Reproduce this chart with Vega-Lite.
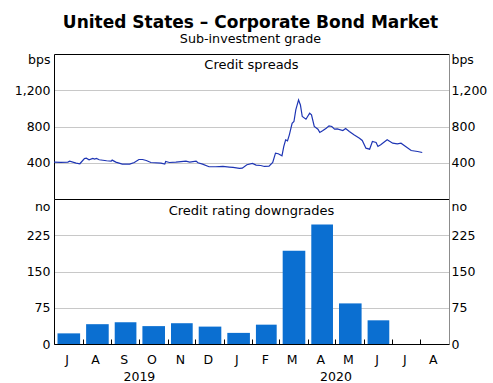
{
  "$schema": "https://vega.github.io/schema/vega-lite/v6.json",
  "padding": {"left": 14, "top": 13, "right": 5, "bottom": 2},
  "title": {
    "text": "United States – Corporate Bond Market",
    "subtitle": "Sub-investment grade",
    "anchor": "middle",
    "font": "DejaVu Sans",
    "fontSize": 17,
    "fontWeight": "bold",
    "color": "#000000",
    "subtitleFont": "DejaVu Sans",
    "subtitleFontSize": 12.7,
    "subtitleColor": "#000000",
    "subtitlePadding": 1,
    "offset": 6.5
  },
  "config": {
    "view": {"stroke": null},
    "font": "DejaVu Sans",
    "axis": {
      "labelFont": "DejaVu Sans",
      "labelFontSize": 12.5,
      "labelColor": "#000000",
      "titleFont": "DejaVu Sans",
      "titleFontSize": 12.5,
      "titleFontWeight": "normal",
      "titleColor": "#000000",
      "domainWidth": 1
    }
  },
  "spacing": 0,
  "bounds": "flush",
  "vconcat": [
    {
      "width": 395,
      "height": 145,
      "title": {"text": "Credit spreads", "anchor": "middle", "frame": "group", "offset": -19, "fontSize": 13, "fontWeight": "normal", "font": "DejaVu Sans", "color": "#000000"},
      "data": {"values": [
        {"date": "2019-07-01", "spread": 407},
        {"date": "2019-07-08", "spread": 405},
        {"date": "2019-07-16", "spread": 407},
        {"date": "2019-07-18", "spread": 418},
        {"date": "2019-07-25", "spread": 396},
        {"date": "2019-07-29", "spread": 389},
        {"date": "2019-08-03", "spread": 447},
        {"date": "2019-08-05", "spread": 451},
        {"date": "2019-08-08", "spread": 433},
        {"date": "2019-08-12", "spread": 447},
        {"date": "2019-08-14", "spread": 440},
        {"date": "2019-08-16", "spread": 447},
        {"date": "2019-08-19", "spread": 433},
        {"date": "2019-08-27", "spread": 422},
        {"date": "2019-09-01", "spread": 418},
        {"date": "2019-09-02", "spread": 429},
        {"date": "2019-09-06", "spread": 407},
        {"date": "2019-09-13", "spread": 385},
        {"date": "2019-09-21", "spread": 385},
        {"date": "2019-09-26", "spread": 403},
        {"date": "2019-10-01", "spread": 436},
        {"date": "2019-10-05", "spread": 436},
        {"date": "2019-10-09", "spread": 425},
        {"date": "2019-10-14", "spread": 403},
        {"date": "2019-10-25", "spread": 396},
        {"date": "2019-10-29", "spread": 385},
        {"date": "2019-10-30", "spread": 414},
        {"date": "2019-11-03", "spread": 403},
        {"date": "2019-11-10", "spread": 407},
        {"date": "2019-11-21", "spread": 418},
        {"date": "2019-11-25", "spread": 407},
        {"date": "2019-12-02", "spread": 418},
        {"date": "2019-12-04", "spread": 400},
        {"date": "2019-12-09", "spread": 385},
        {"date": "2019-12-16", "spread": 356},
        {"date": "2019-12-23", "spread": 356},
        {"date": "2019-12-31", "spread": 359},
        {"date": "2020-01-07", "spread": 352},
        {"date": "2020-01-11", "spread": 348},
        {"date": "2020-01-18", "spread": 337},
        {"date": "2020-01-21", "spread": 340},
        {"date": "2020-01-26", "spread": 378},
        {"date": "2020-02-01", "spread": 392},
        {"date": "2020-02-05", "spread": 374},
        {"date": "2020-02-10", "spread": 370},
        {"date": "2020-02-14", "spread": 359},
        {"date": "2020-02-19", "spread": 363},
        {"date": "2020-02-23", "spread": 403},
        {"date": "2020-02-26", "spread": 506},
        {"date": "2020-02-29", "spread": 499},
        {"date": "2020-03-04", "spread": 477},
        {"date": "2020-03-06", "spread": 580},
        {"date": "2020-03-08", "spread": 653},
        {"date": "2020-03-10", "spread": 642},
        {"date": "2020-03-12", "spread": 708},
        {"date": "2020-03-15", "spread": 836},
        {"date": "2020-03-17", "spread": 855},
        {"date": "2020-03-19", "spread": 983},
        {"date": "2020-03-22", "spread": 1093},
        {"date": "2020-03-24", "spread": 1038},
        {"date": "2020-03-26", "spread": 910},
        {"date": "2020-03-30", "spread": 880},
        {"date": "2020-04-03", "spread": 947},
        {"date": "2020-04-05", "spread": 928},
        {"date": "2020-04-08", "spread": 800},
        {"date": "2020-04-12", "spread": 770},
        {"date": "2020-04-14", "spread": 734},
        {"date": "2020-04-17", "spread": 752},
        {"date": "2020-04-21", "spread": 781},
        {"date": "2020-04-24", "spread": 807},
        {"date": "2020-04-27", "spread": 800},
        {"date": "2020-04-30", "spread": 770},
        {"date": "2020-05-03", "spread": 774},
        {"date": "2020-05-09", "spread": 756},
        {"date": "2020-05-12", "spread": 778},
        {"date": "2020-05-16", "spread": 745},
        {"date": "2020-05-21", "spread": 708},
        {"date": "2020-05-27", "spread": 671},
        {"date": "2020-05-30", "spread": 646},
        {"date": "2020-06-03", "spread": 561},
        {"date": "2020-06-07", "spread": 550},
        {"date": "2020-06-10", "spread": 635},
        {"date": "2020-06-14", "spread": 624},
        {"date": "2020-06-16", "spread": 580},
        {"date": "2020-06-19", "spread": 598},
        {"date": "2020-06-26", "spread": 653},
        {"date": "2020-07-02", "spread": 616},
        {"date": "2020-07-07", "spread": 609},
        {"date": "2020-07-11", "spread": 616},
        {"date": "2020-07-16", "spread": 580},
        {"date": "2020-07-22", "spread": 535},
        {"date": "2020-07-29", "spread": 524},
        {"date": "2020-08-03", "spread": 513}
      ]},
      "layer": [
        {
          "mark": {"type": "line", "color": "#1e35b4", "strokeWidth": 1.2},
          "encoding": {
            "x": {"field": "date", "type": "temporal",
              "scale": {"type": "utc", "nice": false, "domain": [{"year": 2019, "month": 7, "date": 1, "utc": true}, {"year": 2020, "month": 9, "date": 1, "utc": true}]},
              "axis": {"orient": "bottom", "labels": false, "ticks": false, "grid": false, "title": null, "domainColor": "#000000"}},
            "y": {"field": "spread", "type": "quantitative",
              "scale": {"domain": [0, 1600], "nice": false},
              "axis": {"orient": "left", "values": [400, 800, 1200], "format": ",.0f", "grid": true, "gridColor": "#c8c8c8", "ticks": false, "domainColor": "#000000", "labelPadding": 4,
                "title": "bps", "titleAngle": 0, "titleAlign": "right", "titleBaseline": "alphabetic", "titleX": -4, "titleY": 9}}
          }
        },
        {
          "mark": {"type": "line", "strokeOpacity": 0},
          "encoding": {
            "x": {"field": "date", "type": "temporal",
              "axis": {"orient": "top", "labels": false, "ticks": false, "grid": false, "title": null, "domainColor": "#000000"}},
            "y": {"field": "spread", "type": "quantitative",
              "axis": {"orient": "right", "values": [400, 800, 1200], "format": ",.0f", "grid": false, "ticks": false, "domainColor": "#8c8c8c", "labelPadding": 2,
                "title": "bps", "titleAngle": 0, "titleAlign": "left", "titleBaseline": "alphabetic", "titleX": 2, "titleY": 9}}
          }
        }
      ],
      "resolve": {"axis": {"x": "independent", "y": "independent"}}
    },
    {
      "width": 395,
      "height": 145,
      "title": {"text": "Credit rating downgrades", "anchor": "middle", "frame": "group", "offset": -19, "fontSize": 13, "fontWeight": "normal", "font": "DejaVu Sans", "color": "#000000"},
      "data": {"values": [
        {"month": "2019-07-01", "downgrades": 22},
        {"month": "2019-08-01", "downgrades": 41},
        {"month": "2019-09-01", "downgrades": 45},
        {"month": "2019-10-01", "downgrades": 37},
        {"month": "2019-11-01", "downgrades": 43},
        {"month": "2019-12-01", "downgrades": 36},
        {"month": "2020-01-01", "downgrades": 23},
        {"month": "2020-02-01", "downgrades": 40},
        {"month": "2020-03-01", "downgrades": 193},
        {"month": "2020-04-01", "downgrades": 247},
        {"month": "2020-05-01", "downgrades": 84},
        {"month": "2020-06-01", "downgrades": 49}
      ]},
      "layer": [
        {
          "mark": {"type": "bar", "color": "#0b6fd1", "binSpacing": 6},
          "encoding": {
            "x": {"field": "month", "timeUnit": "utcyearmonth", "type": "temporal",
              "scale": {"type": "utc", "nice": false, "domain": [{"year": 2019, "month": 7, "date": 1, "utc": true}, {"year": 2020, "month": 9, "date": 1, "utc": true}]},
              "axis": {"orient": "bottom", "tickCount": {"interval": "month", "step": 1}, "tickSize": -5, "tickColor": "#000000", "domainColor": "#000000",
                "labelExpr": "utcyear(datum.value) == 2020 && utcmonth(datum.value) == 8 ? '' : substring(utcFormat(datum.value, '%b'), 0, 1)",
                "labelOffset": 12.5, "labelFlush": false, "labelOverlap": false, "labelBaseline": "alphabetic", "labelPadding": 24, "grid": false, "title": null}},
            "y": {"field": "downgrades", "type": "quantitative",
              "scale": {"domain": [0, 300], "nice": false},
              "axis": {"orient": "left", "values": [0, 75, 150, 225], "grid": true,
                "gridColor": {"condition": {"test": "datum.value === 0", "value": "transparent"}, "value": "#c8c8c8"},
                "ticks": false, "domainColor": "#000000", "labelPadding": 4,
                "title": "no", "titleAngle": 0, "titleAlign": "right", "titleBaseline": "alphabetic", "titleX": -4, "titleY": 11}}
          }
        },
        {
          "mark": {"type": "bar", "opacity": 0, "binSpacing": 6},
          "encoding": {
            "x": {"field": "month", "timeUnit": "utcyearmonth", "type": "temporal",
              "axis": {"orient": "bottom", "values": [{"year": 2019, "month": 10, "date": 1, "utc": true}, {"year": 2020, "month": 5, "date": 1, "utc": true}],
                "ticks": false, "domain": false, "labelExpr": "utcFormat(datum.value, '%Y')", "labelFlush": false, "labelOverlap": false,
                "labelBaseline": "alphabetic", "labelPadding": 36, "grid": false, "title": null}},
            "y": {"field": "downgrades", "type": "quantitative",
              "axis": {"orient": "right", "values": [0, 75, 150, 225], "grid": false, "ticks": false, "domainColor": "#8c8c8c", "labelPadding": 2,
                "title": "no", "titleAngle": 0, "titleAlign": "left", "titleBaseline": "alphabetic", "titleX": 2, "titleY": 11}}
          }
        }
      ],
      "resolve": {"axis": {"x": "independent", "y": "independent"}}
    }
  ]
}
